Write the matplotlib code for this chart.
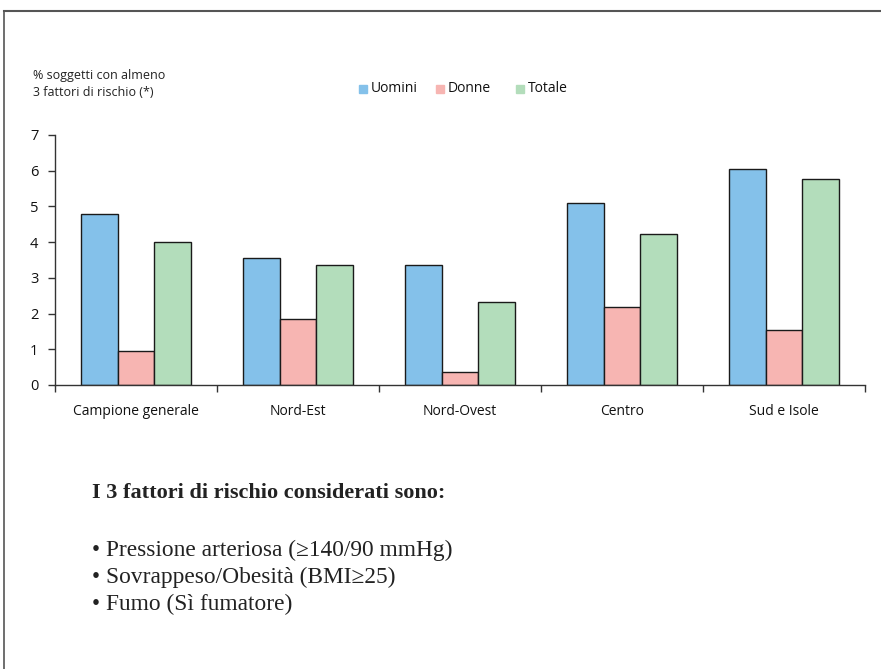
import matplotlib
matplotlib.use("Agg")
import matplotlib.pyplot as plt
from matplotlib.lines import Line2D
from matplotlib.patches import Rectangle
import numpy as np

categories = ["Campione generale", "Nord-Est", "Nord-Ovest", "Centro", "Sud e Isole"]
series_names = ["Uomini", "Donne", "Totale"]
uomini = [4.8, 3.57, 3.35, 5.1, 6.05]
donne = [0.96, 1.84, 0.37, 2.19, 1.54]
totale = [4.0, 3.35, 2.33, 4.23, 5.76]
y_ticks = [0, 1, 2, 3, 4, 5, 6, 7]

colors = ["#84C1EA", "#F7B5B2", "#B3DDBB"]
sans = ["Open Sans", "DejaVu Sans"]
serif = ["Liberation Serif", "DejaVu Serif"]

fig = plt.figure(figsize=(8.81, 6.69), dpi=100)
ax = fig.add_axes([55 / 881, 1 - 385 / 669, 810 / 881, 250 / 669])

centers = np.arange(len(categories)) + 0.5
width = 0.225
for i, (vals, col) in enumerate(zip([uomini, donne, totale], colors)):
    ax.bar(centers + (i - 1) * width, vals, width=width, color=col,
           edgecolor="#1a1a1a", linewidth=1.0, zorder=2)

ax.set_xlim(0, len(categories))
ax.set_ylim(0, 7)
ax.set_yticks(y_ticks)
ax.set_yticklabels([str(t) for t in y_ticks], fontsize=10.5, family=sans, color="#111111")
ax.set_xticks(np.arange(len(categories) + 1))
ax.set_xticklabels([])
ax.set_xticks(centers, minor=True)
ax.set_xticklabels(categories, minor=True, fontsize=10, family=sans, color="#111111")
ax.tick_params(axis="x", which="minor", length=0, pad=14)
ax.tick_params(axis="x", which="major", length=5, direction="out", width=1, color="#333333")
ax.tick_params(axis="y", length=5, direction="out", width=1, color="#333333", pad=7)
for s in ["top", "right"]:
    ax.spines[s].set_visible(False)
for s in ["left", "bottom"]:
    ax.spines[s].set_color("#333333")
    ax.spines[s].set_linewidth(1.0)

# axis caption
fig.text(33 / 881, 1 - 75 / 669, "% soggetti con almeno", fontsize=9, family=sans,
         va="center", ha="left", color="#222222")
fig.text(33 / 881, 1 - 92 / 669, "3 fattori di rischio (*)", fontsize=9, family=sans,
         va="center", ha="left", color="#222222")

# legend
leg_x = [359, 436, 516]
for x, name, col in zip(leg_x, series_names, colors):
    fig.add_artist(Rectangle((x / 881, 1 - 93 / 669), 8 / 881, 8 / 669,
                             transform=fig.transFigure, color=col))
    fig.text((x + 12) / 881, 1 - 89 / 669, name, fontsize=10, family=sans,
             va="center", ha="left", color="#111111")

# notes below the chart
fig.text(92 / 881, 1 - 493 / 669, "I 3 fattori di rischio considerati sono:",
         fontsize=16, family=serif, fontweight="bold", va="center", ha="left",
         color="#222222")
notes = ["• Pressione arteriosa (≥140/90 mmHg)",
         "• Sovrappeso/Obesità (BMI≥25)",
         "• Fumo (Sì fumatore)"]
for k, line in enumerate(notes):
    fig.text(92 / 881, 1 - (550 + 27 * k) / 669, line, fontsize=16.8, family=serif,
             va="center", ha="left", color="#222222")

# page frame
fig.add_artist(Line2D([3.5 / 881, 1], [1 - 11 / 669, 1 - 11 / 669],
                      transform=fig.transFigure, color="#555555", linewidth=1.5))
fig.add_artist(Line2D([3.5 / 881, 3.5 / 881], [0, 1 - 11 / 669],
                      transform=fig.transFigure, color="#555555", linewidth=1.2))

fig.savefig("out.png", dpi=100)
